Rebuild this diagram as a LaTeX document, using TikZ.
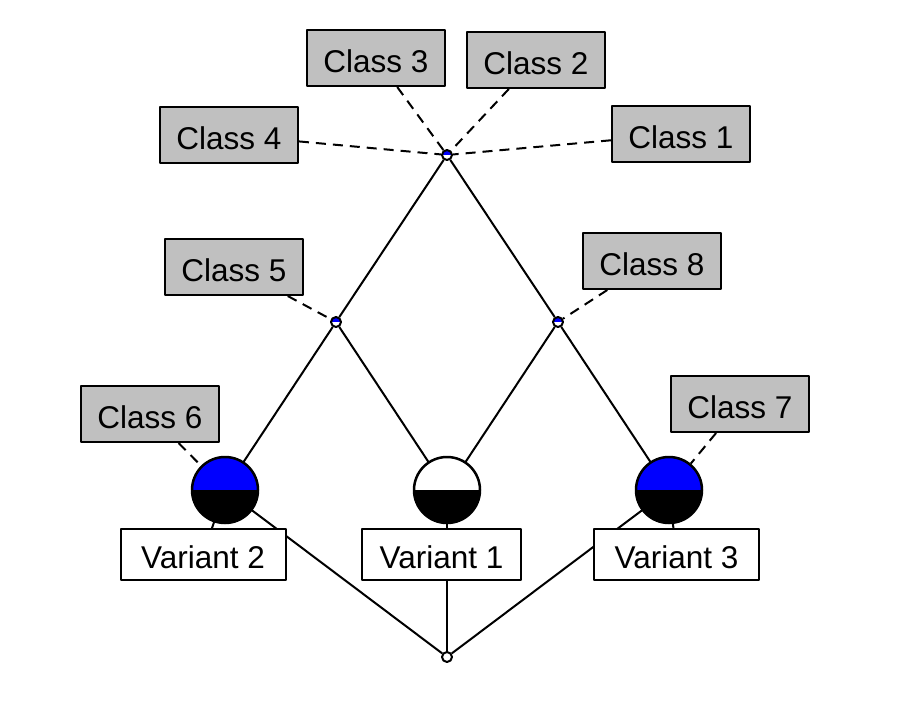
\documentclass[tikz,border=0pt]{standalone}
\usepackage{fontspec}
\setmainfont{Liberation Sans}
\usetikzlibrary{backgrounds}
\definecolor{boxgray}{HTML}{C0C0C0}
\tikzset{
    lab/.style={
        font=\fontsize{31.5}{36}\selectfont,
        text height=28.5pt, text depth=0pt
    },
    classbox/.style={
        lab, draw, line width=2pt, fill=boxgray,
        minimum width=138pt, minimum height=56pt, inner sep=0pt
    },
    varbox/.style={
        lab, draw, line width=2pt, fill=white,
        minimum width=165pt, minimum height=51pt, inner sep=0pt
    },
    ball/.style={
        circle, draw, line width=2.5pt, minimum size=66pt, inner sep=0pt,
        path picture={
            \fill[#1] (path picture bounding box.west) rectangle (path picture bounding box.north east);
            \fill[black] (path picture bounding box.south west) rectangle (path picture bounding box.east);
        }
    },
    joint/.style={
        circle, draw, line width=2pt, fill=white, minimum size=10pt, inner sep=0pt
    },
    bluejoint/.style={
        joint,
        path picture={
            \fill[blue] (path picture bounding box.west) rectangle (path picture bounding box.north east);
        }
    },
    link/.style={line width=2pt},
    dashlink/.style={line width=2pt, dash pattern=on 10pt off 7pt}
}

\begin{document}
\begin{tikzpicture}[x=1pt,y=-1pt,line cap=butt,line join=round]

\useasboundingbox (0,0) rectangle (898,707);

% joints of the lattice
\node[bluejoint] (hub) at (447,155) {};
\node[bluejoint] (j5) at (336,322) {};
\node[bluejoint] (j8) at (558,322) {};
\node[joint] (bot) at (447,657) {};

% the three variants
\node[ball=blue] (ball2) at (225,490) {};
\node[ball=white] (ball1) at (447,490) {};
\node[ball=blue] (ball3) at (669,490) {};

\node[varbox] (var2) at (203,554.5) {Variant 2};
\node[varbox, minimum width=159pt] (var1) at (441.5,554.5) {Variant 1};
\node[varbox] (var3) at (676.5,554.5) {Variant 3};

% class labels
\node[classbox] (c1) at (681,134) {Class 1};
\node[classbox] (c2) at (536,60) {Class 2};
\node[classbox] (c3) at (376,58) {Class 3};
\node[classbox] (c4) at (229,135) {Class 4};
\node[classbox] (c5) at (234,267) {Class 5};
\node[classbox] (c6) at (150,414) {Class 6};
\node[classbox] (c7) at (740,404) {Class 7};
\node[classbox] (c8) at (652,261) {Class 8};

\begin{pgfonlayer}{background}
  % solid lattice edges
  \draw[link] (hub) -- (j5);
  \draw[link] (hub) -- (j8);
  \draw[link] (j5) -- (ball2.center);
  \draw[link] (j5) -- (ball1.center);
  \draw[link] (j8) -- (ball1.center);
  \draw[link] (j8) -- (ball3.center);
  \draw[link] (bot) -- (ball2.center);
  \draw[link] (bot) -- (ball1.center);
  \draw[link] (bot) -- (ball3.center);
  \draw[link] (var2.center) -- (ball2.center);
  \draw[link] (var3.center) -- (ball3.center);

  % dashed class links
  \foreach \c in {c1,c2,c3,c4} {
    \draw[dashlink] (\c) -- (hub);
  }
  \draw[dashlink] (c5) -- (j5);
  \draw[dashlink] (c8) -- (j8);
  \draw[dashlink] (c6) -- (ball2);
  \draw[dashlink] (c7) -- (ball3);
\end{pgfonlayer}

\end{tikzpicture}
\end{document}
